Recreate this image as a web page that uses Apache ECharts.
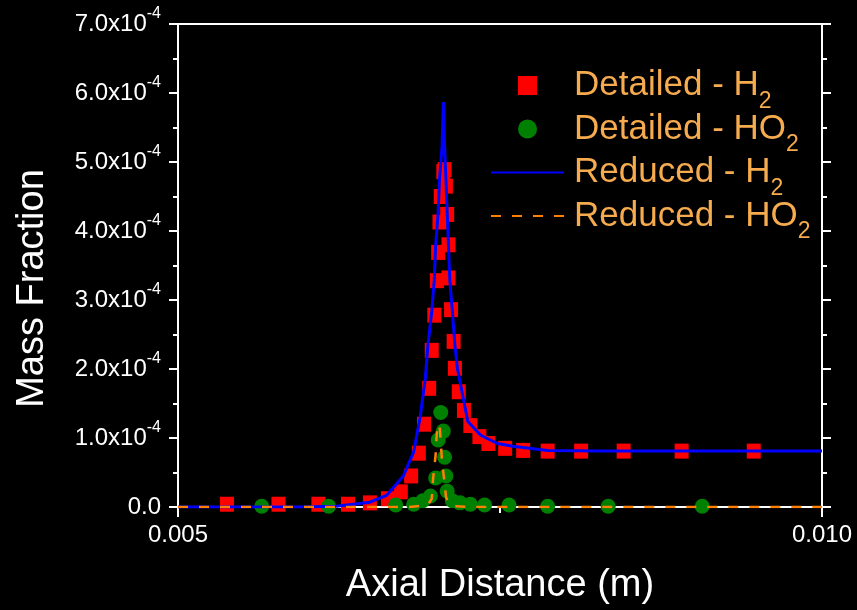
<!DOCTYPE html>
<html>
<head>
<meta charset="utf-8">
<script src="https://cdn.jsdelivr.net/npm/echarts@6/dist/echarts.min.js"></script>
<style>
  html, body { margin: 0; padding: 0; background: #000; }
  #chart { width: 857px; height: 610px; }
</style>
</head>
<body>
<div id="chart"></div>
<script>
// mass fractions are kept in units of 1e-4
const detH2X = [0.00538, 0.00578, 0.00609, 0.00632, 0.00649, 0.00663, 0.00673, 0.00681, 0.00687, 0.00691,
  0.00695, 0.00697, 0.00699, 0.00701, 0.00702, 0.00703, 0.00704, 0.00706, 0.00707, 0.00708,
  0.00709, 0.00710, 0.00710, 0.00712, 0.00714, 0.00715, 0.00718, 0.00722, 0.00727, 0.00734,
  0.00741, 0.00754, 0.00768, 0.00787, 0.00813, 0.00846, 0.00891, 0.00947];
const detH2Y = [0.04, 0.04, 0.04, 0.04, 0.06, 0.12, 0.22, 0.45, 0.78, 1.20,
  1.72, 2.27, 2.78, 3.28, 3.69, 4.13, 4.50, 4.86, 4.89, 4.65,
  4.24, 3.80, 3.32, 2.86, 2.40, 2.01, 1.67, 1.40, 1.18, 1.02,
  0.92, 0.85, 0.82, 0.81, 0.81, 0.81, 0.81, 0.81];

const detHO2X = [0.00565, 0.00617, 0.00669, 0.00683, 0.00690, 0.00696, 0.00700, 0.00702, 0.00704, 0.00706,
  0.00707, 0.00708, 0.00709, 0.00713, 0.00719, 0.00727, 0.00738, 0.00757, 0.00787, 0.00834, 0.00907];
const detHO2Y = [0.01, 0.01, 0.03, 0.04, 0.09, 0.16, 0.42, 0.97, 1.37, 1.10,
  0.72, 0.45, 0.23, 0.09, 0.06, 0.04, 0.03, 0.03, 0.01, 0.01, 0.01];

const redH2X = [0.005, 0.00595, 0.00623, 0.00649, 0.00662, 0.00675, 0.00683, 0.00688, 0.00692, 0.00694,
  0.00697, 0.00699, 0.00700, 0.00702, 0.00703, 0.00705, 0.00706, 0.00707, 0.00709, 0.00710,
  0.00711, 0.00713, 0.00715, 0.00717, 0.00721, 0.00725, 0.00735, 0.00748, 0.00760, 0.00787,
  0.00828, 0.010];
const redH2Y = [0, 0, 0.01, 0.07, 0.17, 0.45, 0.80, 1.30, 1.86, 2.34,
  2.83, 3.30, 3.78, 4.27, 4.75, 5.22, 5.87, 5.22, 4.27, 3.78,
  3.30, 2.83, 2.34, 2.00, 1.62, 1.24, 1.04, 0.92, 0.88, 0.82,
  0.81, 0.81];

const redHO2X = [0.005, 0.00680, 0.00694, 0.00697, 0.00698, 0.00700, 0.00701, 0.00703, 0.00704, 0.00705,
  0.00707, 0.00708, 0.00710, 0.00715, 0.00727, 0.010];
const redHO2Y = [0, 0, 0.03, 0.12, 0.40, 0.75, 1.10, 1.20, 0.95, 0.65,
  0.35, 0.15, 0.05, 0.01, 0, 0];

const seriesNames = ['Detailed - H2', 'Detailed - HO2', 'Reduced - H2', 'Reduced - HO2'];
const yTicks = [0, 1, 2, 3, 4, 5, 6, 7];

const zip = (xs, ys) => xs.map((x, i) => [x, ys[i]]);
const font = 'Liberation Sans, Arial, sans-serif';
const legendColor = '#f7ab4f';

const chart = echarts.init(document.getElementById('chart'));

const yAxisBase = {
  type: 'value',
  min: yTicks[0],
  max: yTicks[yTicks.length - 1],
  interval: 1,
  splitLine: {show: false},
  axisLine: {show: true, onZero: false, lineStyle: {color: '#fff', width: 2}},
  axisTick: {show: true, inside: false, length: 9, lineStyle: {color: '#fff', width: 2}},
  minorTick: {show: true, splitNumber: 2, length: 5, lineStyle: {color: '#fff', width: 2}}
};

chart.setOption({
  backgroundColor: '#000',
  animation: false,
  grid: {left: 178, right: 35, top: 24, bottom: 101},
  legend: {
    left: 490,
    top: 58,
    padding: 0,
    orient: 'vertical',
    itemWidth: 73,
    itemHeight: 19,
    itemGap: -11.5,
    data: [
      {name: seriesNames[0], icon: 'path://M0,0L1,0L1,1L0,1Z'},
      {name: seriesNames[1], icon: 'path://M1,0.5A0.5,0.5,0,1,1,0,0.5A0.5,0.5,0,1,1,1,0.5Z'},
      {name: seriesNames[2], itemStyle: {opacity: 0}},
      {name: seriesNames[3], itemStyle: {opacity: 0}}
    ],
    formatter: function(name) {
      return '{a|' + name.slice(0, -1) + '}{s|2}';
    },
    textStyle: {
      color: legendColor,
      fontFamily: font,
      fontSize: 35,
      rich: {
        a: {fontFamily: font, fontSize: 35, color: legendColor, lineHeight: 30, padding: [0, 0, 0, 5]},
        s: {fontFamily: font, fontSize: 23, color: legendColor, lineHeight: 30, padding: [32, 0, 0, 0]}
      }
    }
  },
  xAxis: [{
    type: 'value',
    min: 0.005,
    max: 0.010,
    interval: 0.005,
    name: 'Axial Distance (m)',
    nameLocation: 'middle',
    nameGap: 60,
    nameTextStyle: {color: '#fff', fontFamily: font, fontSize: 38},
    splitLine: {show: false},
    axisLine: {show: true, onZero: false, lineStyle: {color: '#fff', width: 2}},
    axisTick: {show: true, inside: false, length: 10, lineStyle: {color: '#fff', width: 2}},
    minorTick: {show: true, splitNumber: 2, length: 6, lineStyle: {color: '#fff', width: 2}},
    axisLabel: {
      color: '#fff', fontFamily: font, fontSize: 24, margin: 16,
      formatter: v => v.toFixed(3)
    }
  }, {
    type: 'value',
    position: 'top',
    min: 0.005,
    max: 0.010,
    interval: 0.005,
    splitLine: {show: false},
    axisLine: {show: true, onZero: false, lineStyle: {color: '#fff', width: 2}},
    axisTick: {show: false},
    axisLabel: {show: false}
  }],
  yAxis: [Object.assign({}, yAxisBase, {
    name: 'Mass Fraction',
    nameLocation: 'middle',
    nameGap: 126,
    nameTextStyle: {color: '#fff', fontFamily: font, fontSize: 38, padding: [0, 46, 0, 0]},
    axisLabel: {
      color: '#fff', fontFamily: font, fontSize: 24, margin: 17,
      formatter: v => v === 0 ? '{a|0.0}' : '{a|' + v.toFixed(1) + 'x10}{s|-4}',
      rich: {
        a: {color: '#fff', fontFamily: font, fontSize: 24, lineHeight: 26},
        s: {color: '#fff', fontFamily: font, fontSize: 16, lineHeight: 26, padding: [0, 0, 20, 0]}
      }
    }
  }), Object.assign({}, yAxisBase, {
    position: 'right',
    axisLabel: {show: false}
  })],
  series: [{
    name: seriesNames[0],
    type: 'scatter',
    symbol: 'rect',
    symbolSize: [14, 15],
    itemStyle: {color: '#ff0000', opacity: 1},
    data: zip(detH2X, detH2Y),
    z: 2
  }, {
    name: seriesNames[1],
    type: 'scatter',
    symbol: 'circle',
    symbolSize: 15,
    itemStyle: {color: '#008000', opacity: 1},
    data: zip(detHO2X, detHO2Y),
    z: 3
  }, {
    name: seriesNames[2],
    type: 'line',
    symbol: 'none',
    showSymbol: false,
    lineStyle: {color: '#0000ff', width: 3},
    itemStyle: {color: '#0000ff'},
    data: zip(redH2X, redH2Y),
    z: 4
  }, {
    name: seriesNames[3],
    type: 'line',
    symbol: 'none',
    showSymbol: false,
    lineStyle: {color: '#ff8000', width: 2.5, type: [10, 11]},
    itemStyle: {color: '#ff8000'},
    data: zip(redHO2X, redHO2Y),
    z: 5
  }]
});
</script>
</body>
</html>
